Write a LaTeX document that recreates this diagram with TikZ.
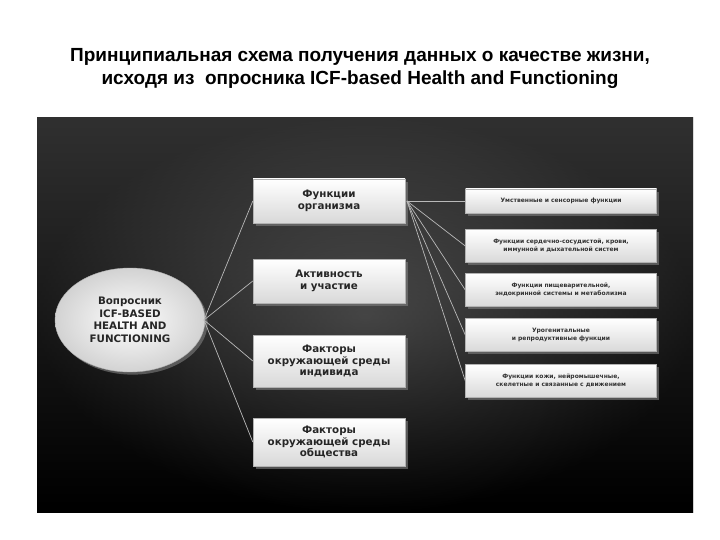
\documentclass[tikz,border=0pt]{standalone}
\usepackage{fontspec}
\setmainfont{Liberation Sans}
\newfontfamily\boxfont{DejaVu Sans}
\usetikzlibrary{shadows,shapes.geometric}
\begin{document}
\begin{tikzpicture}[x=1pt,y=-1pt,
  midbox/.style={draw=gray!60,top color=white,bottom color=gray!30,minimum width=152pt,align=center,font=\boxfont\bfseries\fontsize{10.3}{11.5}\selectfont,text=black!85,drop shadow={opacity=0.6}},
  rbox/.style={draw=gray!60,top color=white,bottom color=gray!30,minimum width=191pt,align=center,font=\boxfont\bfseries\fontsize{6}{8}\selectfont,text=black!80,drop shadow={opacity=0.6}},
  link/.style={draw=gray!55,line width=0.7pt}]
\useasboundingbox (0,0) rectangle (720,540);
\fill[white] (0,0) rectangle (720,540);
\node[font=\bfseries\fontsize{19}{23}\selectfont,align=center] (title) at (360,68) {Принципиальная схема получения данных о качестве жизни,\\ исходя из\ \ опросника ICF-based Health and Functioning};
\shade[top color=black!62,bottom color=black] (37,118) rectangle (693,512);
\shade[inner color=gray!70!black,outer color=black,opacity=0.5] (37,118) rectangle (693,512);
\node[ellipse,draw=gray!60,inner color=white,outer color=gray!35,minimum width=150pt,minimum height=104pt,align=center,font=\boxfont\bfseries\fontsize{10.3}{12.5}\selectfont,text=black!85,drop shadow={opacity=0.6}] (q) at (130,320) {Вопросник\\ICF-BASED\\HEALTH AND\\FUNCTIONING};
\node[midbox,minimum height=44pt] (m1) at (329,201) {Функции\\организма};
\node[midbox,minimum height=44pt] (m2) at (329,281) {Активность\\и участие};
\node[midbox,minimum height=52pt] (m3) at (329,361) {Факторы\\окружающей среды\\индивида};
\node[midbox,minimum height=48pt] (m4) at (329,442) {Факторы\\окружающей среды\\общества};
\node[rbox,minimum height=24pt] (r1) at (561,201) {Умственные и сенсорные функции};
\node[rbox,minimum height=33pt] (r2) at (561,246) {Функции сердечно-сосудистой, крови,\\иммунной и дыхательной систем};
\node[rbox,minimum height=33pt] (r3) at (561,290) {Функции пищеварительной,\\эндокринной системы и метаболизма};
\node[rbox,minimum height=33pt] (r4) at (561,335) {Урогенитальные\\и репродуктивные функции};
\node[rbox,minimum height=33pt] (r5) at (561,381) {Функции кожи, нейромышечные,\\скелетные и связанные с движением};
\coordinate (qo) at (204,320);
\coordinate (mo) at (407,201);
\foreach \m in {m1,m2,m3,m4} \draw[link] (qo) -- (\m.west);
\foreach \r in {r1,r2,r3,r4,r5} \draw[link] (mo) -- (\r.west);
\end{tikzpicture}
\end{document}
